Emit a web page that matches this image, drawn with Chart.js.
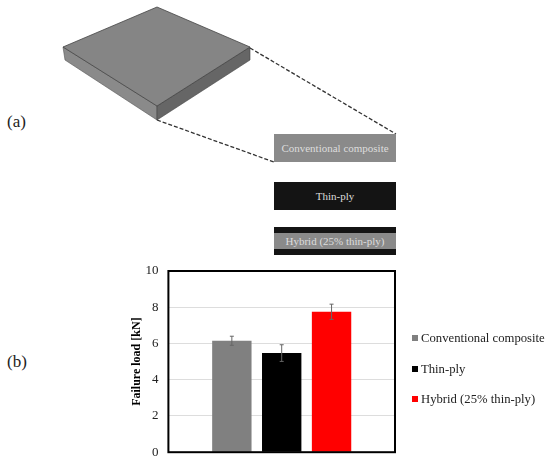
<!DOCTYPE html>
<html>
<head>
<meta charset="utf-8">
<style>
  body { margin: 0; background: #fff; }
  #wrap { position: relative; width: 550px; height: 463px; overflow: hidden; }
  #wrap svg, #wrap canvas { position: absolute; left: 0; top: 0; }
  svg text { font-family: "Liberation Serif", serif; }
  #legend { position: absolute; left: 412px; top: 323px; font: 12.7px "Liberation Serif", serif; color: #222; white-space: nowrap; }
  #legend div { height: 30.5px; line-height: 30.5px; }
  #legend i { display: inline-block; width: 6px; height: 6px; margin-right: 3px; vertical-align: 1px; }
</style>
<script src="https://cdn.jsdelivr.net/npm/chart.js@4"></script>
</head>
<body>
<div id="wrap">
  <svg width="550" height="463">
    <!-- plate sketch for part (a) -->
    <polygon points="63,47 157,106 157,120 65,60" fill="#8a8a8a" stroke="#555" stroke-width="0.6"/>
    <polygon points="157,106 250,47 250,60 157,120" fill="#666" stroke="#444" stroke-width="0.6"/>
    <polygon points="63,47 157,7 250,47 157,106" fill="#858585" stroke="#444" stroke-width="0.8"/>
    <line x1="250" y1="48" x2="396" y2="134" stroke="#333" stroke-width="1.3" stroke-dasharray="4 2"/>
    <line x1="157" y1="120" x2="274" y2="162" stroke="#333" stroke-width="1.3" stroke-dasharray="4 2"/>
    <rect x="274" y="134" width="122" height="28" fill="#8a8a8a"/>
    <rect x="274" y="182" width="122" height="28" fill="#141414"/>
    <rect x="274" y="227" width="122" height="28" fill="#141414"/>
    <rect x="274" y="233" width="122" height="16" fill="#8a8a8a"/>
    <g font-size="11" fill="#dddddd" text-anchor="middle">
      <text x="335" y="152">Conventional composite</text>
      <text x="335" y="200">Thin-ply</text>
      <text x="335" y="245">Hybrid (25% thin-ply)</text>
    </g>
    <g font-size="17" fill="#222">
      <text x="7" y="127">(a)</text>
      <text x="7" y="367">(b)</text>
    </g>
  </svg>
  <canvas id="ourChart" width="550" height="463"></canvas>
  <div id="legend"></div>
</div>
<script>
const categories = ['Failure load'];
const seriesNames = ['Conventional composite', 'Thin-ply', 'Hybrid (25% thin-ply)'];
const seriesColors = ['#808080', '#000000', '#ff0000'];
const failureLoad = [6.15, 5.47, 7.75];
const errorSize = [0.25, 0.46, 0.42];
const yTicks = [0, 2, 4, 6, 8, 10];

const serif = '"Liberation Serif", serif';

// frame round the plot and the error whiskers
const extras = {
    id: 'extras',
    afterDatasetsDraw(chart) {
        const ctx = chart.ctx;
        const area = chart.chartArea;
        const y = chart.scales.y;
        ctx.save();
        ctx.strokeStyle = '#000';
        ctx.lineWidth = 2;
        ctx.strokeRect(area.left, area.top, area.right - area.left, area.bottom - area.top);
        ctx.strokeStyle = '#666';
        ctx.lineWidth = 1;
        failureLoad.forEach((v, i) => {
            const bar = chart.getDatasetMeta(i).data[0];
            const top = y.getPixelForValue(v + errorSize[i]);
            const bottom = y.getPixelForValue(v - errorSize[i]);
            ctx.beginPath();
            ctx.moveTo(bar.x, top);
            ctx.lineTo(bar.x, bottom);
            ctx.moveTo(bar.x - 2, top);
            ctx.lineTo(bar.x + 2, top);
            ctx.moveTo(bar.x - 2, bottom);
            ctx.lineTo(bar.x + 2, bottom);
            ctx.stroke();
        });
        ctx.restore();
    }
};

new Chart(document.getElementById('ourChart'), {
    type: 'bar',
    data: {
        labels: categories,
        datasets: seriesNames.map((name, i) => ({
            label: name,
            data: [failureLoad[i]],
            backgroundColor: seriesColors[i],
            categoryPercentage: 0.66,
            barPercentage: 0.79,
        }))
    },
    options: {
        responsive: false,
        animation: false,
        layout: {
            padding: { left: 130, right: 155, top: 271, bottom: 10.5 }
        },
        plugins: {
            tooltip: { enabled: false },
            legend: { display: false },
        },
        scales: {
            x: {
                grid: { display: false, drawTicks: false },
                ticks: { display: false },
                border: { display: false },
            },
            y: {
                min: 0,
                max: 10,
                afterBuildTicks(axis) {
                    axis.ticks = yTicks.map(v => ({ value: v }));
                },
                // invisible tick marks keep the labels off the frame
                grid: { color: '#dddddd', lineWidth: 1, drawTicks: true, tickLength: 7, tickColor: 'transparent' },
                border: { display: false },
                ticks: {
                    color: '#222',
                    padding: 3,
                    font: { family: serif, size: 13 },
                },
                title: {
                    display: true,
                    text: 'Failure load [kN]',
                    color: '#000',
                    padding: { top: 0, bottom: -2 },
                    font: { family: serif, size: 12, weight: 'bold' },
                },
            },
        },
    },
    plugins: [extras],
});

// legend sits further out than the library lets a side box go, so it is a plain list
document.getElementById('legend').innerHTML = seriesNames
    .map((name, i) => `<div><i style="background:${seriesColors[i]}"></i>${name}</div>`)
    .join('');
</script>
</body>
</html>
